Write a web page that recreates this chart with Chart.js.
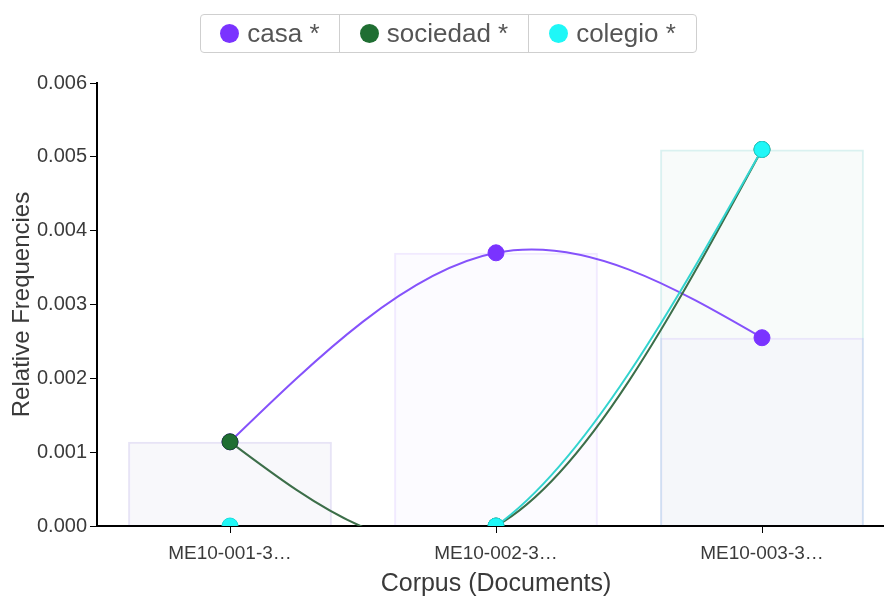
<!DOCTYPE html>
<html>
<head>
<meta charset="utf-8">
<script src="https://cdn.jsdelivr.net/npm/chart.js@4"></script>
<style>
    body { margin: 0; background: #fff; }
    #wrap { position: relative; width: 884px; height: 597px; overflow: hidden; }
    #chart { position: absolute; left: 0; top: 0; }
    #legend {
        position: absolute; left: 200px; top: 14px; height: 39px; box-sizing: border-box;
        display: flex; border: 1px solid #cfcfcf; border-radius: 4px;
        font-family: 'Liberation Sans', Arial, sans-serif; font-size: 26px; color: #555;
    }
    #legend .item { display: flex; align-items: center; justify-content: center; border-right: 1px solid #cfcfcf; }
    #legend .item:last-child { border-right: none; }
    #legend .dot { width: 19px; height: 19px; border-radius: 50%; margin-right: 8px; }
</style>
</head>
<body>
<div id="wrap">
    <canvas id="chart" width="905" height="597"></canvas>
    <div id="legend"></div>
</div>
<script>
// Documents and term frequencies
const documents = ['ME10-001-3\u2026', 'ME10-002-3\u2026', 'ME10-003-3\u2026'];
const casa = [0.00114, 0.0037, 0.00255];
const sociedad = [0.00114, 0, 0.0051];
const colegio = [0, 0, 0.0051];
const yTicks = [0, 0.001, 0.002, 0.003, 0.004, 0.005, 0.006];

const terms = [
    { label: 'casa *', data: casa, color: '#7a33ff', rgb: '122, 51, 255', line: '#8552fb', edge: '#7a33ff', fill: 0.02, stroke: 0.1 },
    { label: 'sociedad *', data: sociedad, color: '#1f6e32', rgb: '31, 110, 50', line: '#3c6e49', edge: '#184f26', fill: 0.02, stroke: 0.05 },
    { label: 'colegio *', data: colegio, color: '#1ff7f7', rgb: '31, 200, 210', line: '#33d4cf', edge: '#1bdcdc', fill: 0.015, stroke: 0.12 }
];
const legendWidths = [138, 188, 167];

const font = "'Liberation Sans', Arial, sans-serif";

// Natural cubic spline control points (same maths as d3.curveNatural)
function naturalControls(v) {
    const n = v.length - 1;
    const a = new Array(n), b = new Array(n), r = new Array(n);
    a[0] = 0; b[0] = 2; r[0] = v[0] + 2 * v[1];
    for (let i = 1; i < n - 1; ++i) { a[i] = 1; b[i] = 4; r[i] = 4 * v[i] + 2 * v[i + 1]; }
    a[n - 1] = 2; b[n - 1] = 7; r[n - 1] = 8 * v[n - 1] + v[n];
    for (let i = 1; i < n; ++i) { const m = a[i] / b[i - 1]; b[i] -= m; r[i] -= m * r[i - 1]; }
    a[n - 1] = r[n - 1] / b[n - 1];
    for (let i = n - 2; i >= 0; --i) a[i] = (r[i] - a[i + 1]) / b[i];
    b[n - 1] = (v[n] + a[n - 1]) / 2;
    for (let i = 0; i < n - 1; ++i) b[i] = 2 * v[i + 1] - a[i + 1];
    return [a, b];
}

// Swap Chart.js bezier controls for a natural spline through the same points
const naturalCurve = {
    id: 'naturalCurve',
    beforeDatasetDraw(chart, args) {
        const meta = args.meta;
        if (meta.type !== 'line') return;
        const pts = meta.data;
        meta.dataset.updateControlPoints(chart.chartArea, meta.indexAxis);
        const [ax, bx] = naturalControls(pts.map(p => p.x));
        const [ay, by] = naturalControls(pts.map(p => p.y));
        for (let i = 0; i < pts.length - 1; i++) {
            pts[i].cp2x = ax[i]; pts[i].cp2y = ay[i];
            pts[i + 1].cp1x = bx[i]; pts[i + 1].cp1y = by[i];
        }
    }
};

function buildLegend() {
    const legend = document.getElementById('legend');
    terms.forEach((t, i) => {
        const item = document.createElement('div');
        item.className = 'item';
        item.style.width = legendWidths[i] + 'px';
        item.innerHTML = `<span class="dot" style="background:${t.color}"></span><span>${t.label}</span>`;
        legend.appendChild(item);
    });
}

function initChart() {
    const ctx = document.getElementById('chart').getContext('2d');

    // later terms sit on top
    const lineSets = terms.map((t, i) => ({
        type: 'line',
        label: t.label,
        data: t.data,
        borderColor: t.line,
        borderWidth: 2,
        backgroundColor: t.color,
        pointBackgroundColor: t.color,
        pointBorderColor: t.edge,
        pointBorderWidth: 1,
        pointRadius: 8,
        tension: 0.4,
        clip: 0,
        order: 3 - i
    }));

    const barSets = terms.map(t => ({
        type: 'bar',
        label: t.label,
        data: t.data,
        backgroundColor: `rgba(${t.rgb}, ${t.fill})`,
        borderColor: `rgba(${t.rgb}, ${t.stroke})`,
        borderWidth: 2,
        grouped: false,
        categoryPercentage: 1,
        barPercentage: 0.766,
        order: 10
    }));

    new Chart(ctx, {
        data: {
            labels: documents,
            datasets: [...barSets, ...lineSets]
        },
        options: {
            responsive: false,
            animation: false,
            devicePixelRatio: 1,
            layout: { padding: { top: 83, right: 10, left: 0, bottom: 0 } },
            elements: { line: { capBezierPoints: false } },
            plugins: {
                legend: { display: false },
                tooltip: { enabled: false }
            },
            scales: {
                x: {
                    z: 1,
                    offset: true,
                    afterFit: s => { s.height = 71; },
                    grid: { display: true, drawOnChartArea: false, drawTicks: true, tickLength: 7, color: '#000', offset: false },
                    border: { display: true, color: '#000', width: 2 },
                    ticks: { color: '#3a3a3a', font: { family: font, size: 19 }, padding: 9, maxRotation: 0 },
                    title: { display: true, text: 'Corpus (Documents)', color: '#3a3a3a', font: { family: font, size: 25, lineHeight: 1 }, padding: 0 }
                },
                y: {
                    min: 0,
                    max: 0.006,
                    afterFit: s => { s.width = 97; },
                    afterBuildTicks: s => { s.ticks = yTicks.map(v => ({ value: v })); },
                    grid: { display: true, drawOnChartArea: false, drawTicks: true, tickLength: 7, color: '#000' },
                    border: { display: true, color: '#000', width: 2 },
                    ticks: { color: '#3a3a3a', font: { family: font, size: 20 }, padding: 3, callback: v => v.toFixed(3) },
                    title: { display: true, text: 'Relative Frequencies', color: '#3a3a3a', font: { family: font, size: 24, lineHeight: 1 }, padding: { top: 10, bottom: 0 } }
                }
            }
        },
        plugins: [naturalCurve]
    });
}

buildLegend();
initChart();
</script>
</body>
</html>
